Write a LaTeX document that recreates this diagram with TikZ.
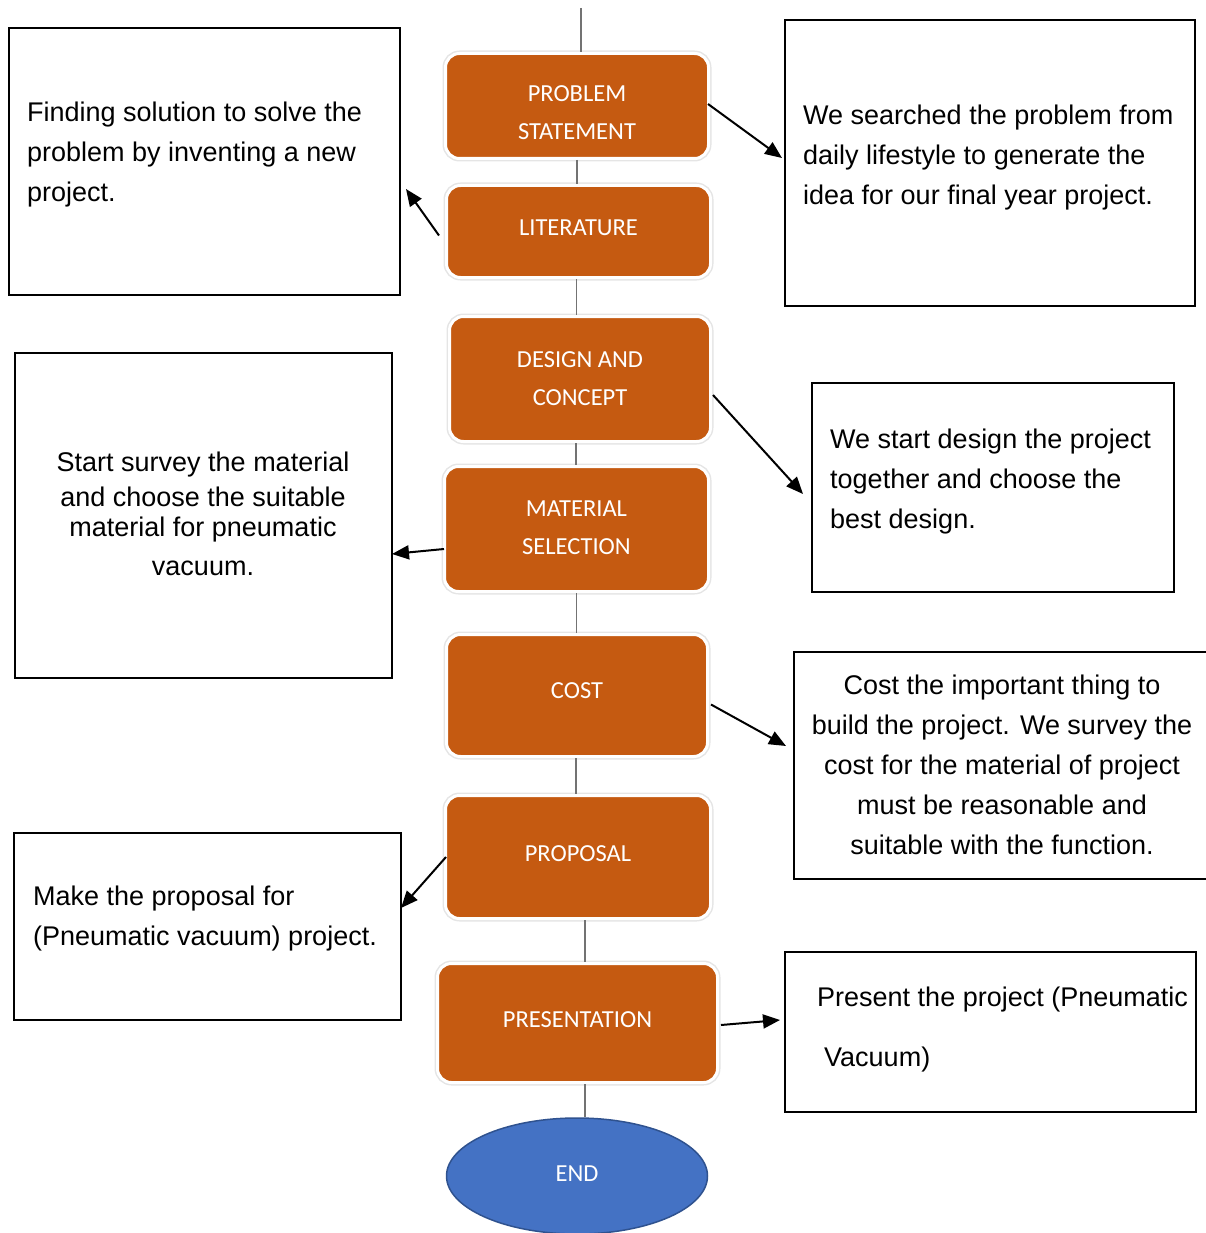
\documentclass[tikz,border=0pt]{standalone}
\usepackage{fontspec}
\setmainfont{Liberation Sans}
\newfontfamily\carlitofont{Carlito}
\usetikzlibrary{arrows.meta,shapes.geometric}
\definecolor{stepor}{HTML}{C55A11}
\definecolor{endblue}{HTML}{4472C4}
\definecolor{endedge}{HTML}{2F528F}
\tikzset{
  stepbox/.style={rectangle, rounded corners=14pt, fill=stepor, draw=white, line width=3pt,
    preaction={draw=black!10, line width=6pt}, inner sep=0pt},
  steptext/.style={text=white, align=center, inner sep=0pt,
    font=\carlitofont\fontsize{24.5}{38}\selectfont},
  endbox/.style={ellipse, fill=endblue, draw=endedge, line width=1.5pt,
    minimum width=261pt, minimum height=116pt, inner sep=0pt},
  tbox/.style={rectangle, draw=black, line width=2pt, inner sep=0pt},
  txt/.style={inner sep=0pt, font=\fontsize{27}{40}\selectfont},
  link/.style={draw=black!55, line width=1.2pt},
  arr/.style={draw=black, line width=2pt, -{Triangle[length=17pt,width=14pt]}},
}
\begin{document}
\begin{tikzpicture}[x=1pt,y=-1pt]
\useasboundingbox (0,0) rectangle (1205,1233);

% process steps
\node[stepbox, minimum width=263pt, minimum height=105pt] (ps) at (577,106) {};
\node[steptext] (pstxt) at ([yshift=-7pt]ps.center) {PROBLEM\\STATEMENT};
\node[stepbox, minimum width=264pt, minimum height=92pt] (lit) at (578.5,231.5) {};
\node[steptext] (littxt) at ([yshift=4pt]lit.center) {LITERATURE};
\node[stepbox, minimum width=261pt, minimum height=125pt] (des) at (580,379) {};
\node[steptext] (destxt) at (des.center) {DESIGN AND\\CONCEPT};
\node[stepbox, minimum width=264pt, minimum height=125pt] (mat) at (576.5,529) {};
\node[steptext] (mattxt) at ([yshift=1pt]mat.center) {MATERIAL\\SELECTION};
\node[stepbox, minimum width=261pt, minimum height=122pt] (cost) at (577,695.5) {};
\node[steptext] (costtxt) at ([yshift=5pt]cost.center) {COST};
\node[stepbox, minimum width=265pt, minimum height=123pt] (prop) at (578,857) {};
\node[steptext] (proptxt) at ([yshift=3pt]prop.center) {PROPOSAL};
\node[stepbox, minimum width=280pt, minimum height=119pt] (pres) at (577.5,1023) {};
\node[steptext] (prestxt) at ([yshift=3pt]pres.center) {PRESENTATION};
\node[endbox] (end) at (577,1176) {};
\node[steptext] (endtxt) at ([yshift=2pt]end.center) {END};

% vertical links
\coordinate (top) at (581,8);
\draw[link] (top) -- (top |- ps.north);
\draw[link] (ps.south) -- (ps.south |- lit.north);
\draw[link] ([xshift=-2pt]lit.south) -- ([xshift=-2pt]lit.south |- des.north);
\draw[link] ([xshift=-4pt]des.south) -- ([xshift=-4pt]des.south |- mat.north);
\draw[link] (mat.south) -- (mat.south |- cost.north);
\draw[link] ([xshift=-1pt]cost.south) -- ([xshift=-1pt]cost.south |- prop.north);
\draw[link] ([xshift=7pt]prop.south) -- ([xshift=7pt]prop.south |- pres.north);
\draw[link] ([xshift=7.5pt]pres.south) -- ([xshift=7.5pt]pres.south |- end.north);

% text boxes
\node[tbox, minimum width=391pt, minimum height=267pt] (t1) at (204.5,161.5) {};
\node[txt, anchor=west, align=left] (t1txt) at (27,155) {Finding solution to solve the\\problem by inventing a new\\project.};

\node[tbox, minimum width=410pt, minimum height=286pt] (t2) at (990,163) {};
\node[txt, anchor=west, align=left] (t2txt) at (803,158) {We searched the problem from\\daily lifestyle to generate the\\idea for our final year project.};

\node[tbox, minimum width=377pt, minimum height=325pt] (t3) at (203.5,515.5) {};
\node[txt, align=center] (t3txt) at (203,514) {Start survey the material\\[-5pt]and choose the suitable\\[-10pt]material for pneumatic\\[-1pt]vacuum.};

\node[tbox, minimum width=362pt, minimum height=209pt] (t4) at (993,487.5) {};
\node[txt, anchor=west, align=left] (t4txt) at (830,482) {We start design the project\\together and choose the\\best design.};

\node[tbox, minimum width=420pt, minimum height=227pt] (t5) at (1004,765.5) {};
\node[txt, align=center] (t5txt) at (1002,764.5) {Cost the important thing to\\build the project. We survey the\\cost for the material of project\\must be reasonable and\\suitable with the function.};

\node[tbox, minimum width=387pt, minimum height=187pt] (t6) at (207.5,926.5) {};
\node[txt, anchor=west, align=left] (t6txt) at (33,919) {Make the proposal for\\(Pneumatic vacuum) project.};

\node[tbox, minimum width=411pt, minimum height=160pt] (t7) at (990.5,1032) {};
\node[txt, anchor=west, align=left, font=\fontsize{27}{60}\selectfont] (t7txt) at (817,1029.5) {Present the project (Pneumatic\\\hspace*{7pt}Vacuum)};

% arrows to descriptions
\coordinate (e1) at (782,158);
\coordinate (e2) at (406,189);
\coordinate (e3) at (803,494);
\coordinate (e4) at (392,554);
\coordinate (e5) at (786,746);
\coordinate (e6) at (401,908);
\coordinate (e7) at (780,1020);
\draw[arr] ([xshift=-2pt,yshift=2pt]ps.east) -- (e1);
\draw[arr] ([xshift=-6pt,yshift=-4pt]lit.west) -- (e2);
\draw[arr] ([xshift=1pt,yshift=-16pt]des.east) -- (e3);
\draw[arr] ([xshift=1pt,yshift=-20pt]mat.west) -- (e4);
\draw[arr] ([xshift=2pt,yshift=-9pt]cost.east) -- (e5);
\draw[arr] ([xshift=2pt]prop.west) -- (e6);
\draw[arr] ([xshift=2pt,yshift=-2pt]pres.east) -- (e7);
\end{tikzpicture}
\end{document}
